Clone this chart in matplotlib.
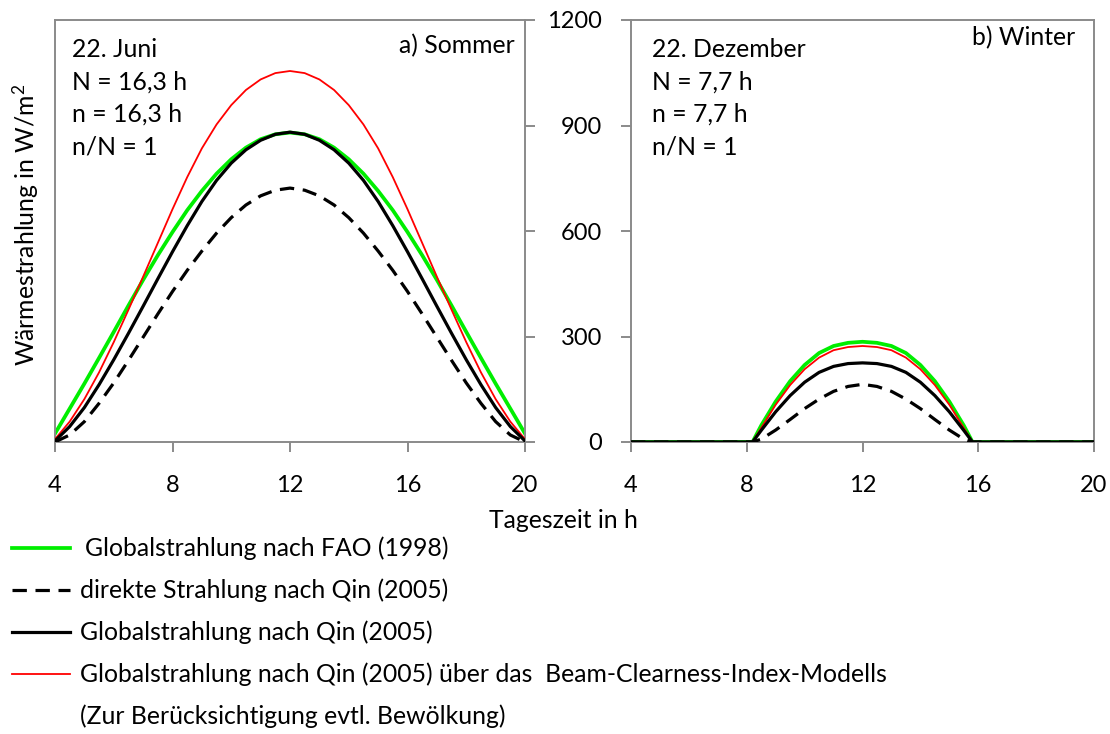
import matplotlib
matplotlib.use("Agg")
import matplotlib.pyplot as plt
from matplotlib.lines import Line2D

plt.rcParams['font.family'] = ['Lato', 'DejaVu Sans']
plt.rcParams['mathtext.fontset'] = 'custom'
plt.rcParams['mathtext.rm'] = 'Lato'
plt.rcParams['mathtext.it'] = 'Lato'

# ---------------- data ----------------
hours_summer = [4, 4.5, 5, 5.5, 6, 6.5, 7, 7.5, 8, 8.5, 9, 9.5, 10, 10.5, 11, 11.5, 12,
                12.5, 13, 13.5, 14, 14.5, 15, 15.5, 16, 16.5, 17, 17.5, 18, 18.5, 19, 19.5, 20]
fao_summer = [24, 95, 166, 239, 313, 388, 461, 531, 597, 659, 714, 763, 804, 837, 861, 875, 880,
              875, 861, 837, 804, 763, 714, 659, 597, 531, 461, 388, 313, 239, 166, 95, 24]
beam_summer = [8, 58, 122, 198, 284, 376, 470, 566, 662, 753, 835, 903, 958, 1001, 1031, 1049, 1055,
               1049, 1031, 1001, 958, 903, 835, 753, 662, 566, 470, 376, 284, 198, 122, 58, 8]
qin_global_summer = [3, 44, 98, 163, 234, 309, 386, 464, 541, 615, 684, 744, 793, 831, 858, 875, 881,
                     875, 858, 831, 793, 744, 684, 615, 541, 464, 386, 309, 234, 163, 98, 44, 3]
qin_direct_summer = [0, 20, 58, 110, 168, 232, 298, 364, 428, 488, 543, 594, 638, 674, 700, 716, 722,
                     716, 700, 674, 638, 594, 543, 488, 428, 364, 298, 232, 168, 110, 58, 20, 0]

hours_winter = [4, 8.2, 8.5, 9, 9.5, 10, 10.5, 11, 11.5, 12,
                12.5, 13, 13.5, 14, 14.5, 15, 15.5, 15.8, 20]
fao_winter = [0, 0, 47, 115, 173, 219, 253, 273, 282, 285,
              282, 273, 253, 219, 173, 115, 47, 0, 0]
beam_winter = [0, 0, 40, 106, 162, 207, 240, 261, 270, 273,
               270, 261, 240, 207, 162, 106, 40, 0, 0]
qin_global_winter = [0, 0, 33, 86, 132, 170, 198, 215, 223, 225,
                     223, 215, 198, 170, 132, 86, 33, 0, 0]
qin_direct_winter = [0, 0, 8, 34, 64, 95, 122, 144, 158, 164,
                     158, 144, 122, 95, 64, 34, 8, 0, 0]

x_ticks = [4, 8, 12, 16, 20]
y_ticks = [0, 300, 600, 900, 1200]

legend_labels = ["Globalstrahlung nach FAO (1998)",
                 "direkte Strahlung nach Qin (2005)",
                 "Globalstrahlung nach Qin (2005)",
                 "Globalstrahlung nach Qin (2005) über das  Beam-Clearness-Index-Modells",
                 "(Zur Berücksichtigung evtl. Bewölkung)"]

# ---------------- styles ----------------
W, H = 1110, 734
FS = 17.8
TFS = 17
GRAY = '#8a8a8a'
GREEN = '#00ee00'
RED = '#ff0000'
DASH = (4.5, 2.7)

fig = plt.figure(figsize=(W / 100, H / 100), dpi=100)

def fx(px):
    return px / W

def fy(py):
    return 1 - py / H

ax1 = fig.add_axes([fx(55), fy(442), fx(525) - fx(55), fy(20) - fy(442)])
ax2 = fig.add_axes([fx(631), fy(442), fx(1094) - fx(631), fy(20) - fy(442)])

def draw(ax, x, g, r, d, b):
    ax.plot(x, g, color=GREEN, lw=2.7, zorder=2)
    ax.plot(x, r, color=RED, lw=1.3, zorder=3)
    ax.plot(x, d, color='black', lw=2.3, dashes=DASH, zorder=4)
    ax.plot(x, b, color='black', lw=2.3, zorder=5)

draw(ax1, hours_summer, fao_summer, beam_summer, qin_direct_summer, qin_global_summer)
draw(ax2, hours_winter, fao_winter, beam_winter, qin_direct_winter, qin_global_winter)

for ax in (ax1, ax2):
    ax.set_xlim(4, 20)
    ax.set_ylim(0, 1200)
    ax.set_xticks(x_ticks)
    ax.set_yticks(y_ticks)
    for s in ax.spines.values():
        s.set_color(GRAY)
        s.set_linewidth(1.4)
    ax.tick_params(axis='x', direction='out', length=7, width=1.4, color=GRAY,
                   labelsize=TFS, pad=17)
    ax.tick_params(axis='y', direction='out', length=7, width=1.4, color=GRAY,
                   labelsize=TFS, pad=14)

ax1.yaxis.tick_right()
ax1.tick_params(axis='y', labelright=False)

def ax_px(ax, px, py):
    # position in axes fraction from pixel coordinates
    bb = ax.get_position()
    return ((px / W - bb.x0) / bb.width, ((1 - py / H) - bb.y0) / bb.height)

ax1.text(*ax_px(ax1, 72, 38), "22. Juni\nN = 16,3 h\nn = 16,3 h\nn/N = 1",
         transform=ax1.transAxes, ha='left', va='top', fontsize=FS, linespacing=1.5)
ax1.text(*ax_px(ax1, 515, 34), "a) Sommer", transform=ax1.transAxes,
         ha='right', va='top', fontsize=FS)
ax2.text(*ax_px(ax2, 652, 38), "22. Dezember\nN = 7,7 h\nn = 7,7 h\nn/N = 1",
         transform=ax2.transAxes, ha='left', va='top', fontsize=FS, linespacing=1.5)
ax2.text(*ax_px(ax2, 1075, 26), "b) Winter", transform=ax2.transAxes,
         ha='right', va='top', fontsize=FS)

fig.text(fx(563), fy(520), "Tageszeit in h", ha='center', va='center', fontsize=FS)
fig.text(fx(26), fy(225), r"Wärmestrahlung in W/m$^{2}$", rotation=90,
         ha='center', va='center', fontsize=FS)

# legend drawn manually
rows_y = [548, 590, 632, 674, 716]
text_x = [85, 80, 80, 80, 80]
handles = [dict(color=GREEN, lw=2.7), dict(color='black', lw=2.3, dashes=DASH),
           dict(color='black', lw=2.3), dict(color=RED, lw=1.3), None]
for yy, tx, lab, h in zip(rows_y, text_x, legend_labels, handles):
    if h is not None:
        fig.add_artist(Line2D([fx(12), fx(70)], [fy(yy), fy(yy)], transform=fig.transFigure, **h))
    fig.text(fx(tx), fy(yy), lab, ha='left', va='center', fontsize=FS)

fig.savefig("out.png", dpi=100)
